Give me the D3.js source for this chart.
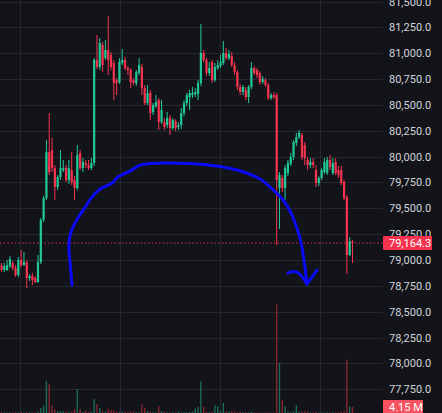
<!DOCTYPE html>
<html><head><meta charset="utf-8">
<script src="https://cdn.jsdelivr.net/npm/d3@7"></script>
<style>html,body{margin:0;padding:0;background:#131419;overflow:hidden}svg{display:block}</style>
</head><body><svg id="c" width="442" height="413"></svg>
<script>
// ---- data ----
const open=[78951,78903,78903,78942,78971,78922,78855,79000,78951,78980,
78826,78845,78826,78787,78980,79387,79599,80044,80064,79889,
79706,79802,79870,79889,79773,79870,79773,79696,80035,79889,
79938,79918,79889,79938,80934,80866,81079,80953,81031,80982,
80905,80740,80721,80905,80934,80856,80837,80740,80711,80808,
80866,80663,80518,80615,80431,80489,80547,80334,80334,80305,
80373,80276,80344,80286,80305,80421,80518,80576,80595,80605,
80605,80711,81002,80934,80808,80914,80740,80856,80876,80905,
81002,80953,80972,80885,80818,80673,80624,80644,80576,80673,
80856,80837,80808,80721,80740,80692,80566,80595,80595,79696,
79793,79696,79841,79928,79996,80131,80189,80209,80112,79967,
79918,79947,79870,79744,79793,79851,79841,79967,79841,79947,
79870,79870,79754,79609,79048,79180];
const high=[78971,78971,79000,79038,78990,78951,79029,79096,79077,79000,
78864,78874,78845,79048,79406,79619,80160,80421,80180,79918,
79822,80064,79967,79918,79967,80044,79812,80112,80064,79986,
79967,79967,79986,80953,81176,81147,81108,81127,81359,81011,
80934,80760,80953,81040,80963,80876,80856,80760,80837,80953,
80895,80692,80692,80644,80518,80595,80566,80547,80373,80431,
80402,80373,80363,80334,80470,80547,80615,80644,80673,80663,
80740,81282,81031,80953,80914,80934,80905,80934,80982,81118,
81050,81031,81011,80914,80837,80702,80692,80673,80692,80914,
80876,80856,80827,80779,80760,80711,80615,80624,80615,79851,
79822,79918,79967,80035,80160,80228,80257,80228,80141,79996,
79986,79986,79918,79812,79889,79986,79996,80015,79986,79986,
79909,79909,79773,79628,79222,79193];
const low=[78884,78884,78894,78922,78903,78836,78836,78932,78942,78729,
78797,78758,78778,78778,78961,79367,79580,79822,79851,79580,
79677,79773,79851,79754,79735,79725,79580,79677,79870,79851,
79889,79870,79870,79909,80847,80837,80818,80934,80789,80837,
80547,80595,80702,80885,80837,80789,80663,80692,80682,80789,
80595,80499,80499,80354,80402,80470,80257,80315,80257,80276,
80209,80257,80247,80257,80267,80392,80489,80450,80566,80576,
80547,80682,80914,80779,80779,80711,80721,80837,80856,80885,
80934,80934,80866,80789,80644,80595,80595,80547,80518,80653,
80789,80760,80692,80702,80673,80547,80547,80557,79145,79300,
79657,79580,79812,79909,79967,80102,80170,79967,79918,79870,
79889,79889,79706,79715,79773,79831,79822,79870,79822,79822,
79793,79725,79580,78864,79038,78971];
const close=[78903,78942,78951,79009,78922,78855,79000,78951,78980,78826,
78845,78806,78787,78980,79387,79599,80044,79851,79889,79706,
79802,79889,79889,79773,79889,79754,79696,80015,79889,79947,
79918,79889,79938,80934,80866,81098,80885,81031,80934,80866,
80711,80711,80914,80934,80856,80837,80721,80711,80818,80885,
80663,80518,80615,80421,80499,80528,80334,80450,80286,80373,
80276,80354,80276,80305,80421,80518,80595,80615,80615,80624,
80711,81002,80934,80808,80856,80740,80866,80885,80914,81002,
80953,80992,80885,80818,80673,80624,80673,80576,80673,80856,
80808,80789,80721,80750,80692,80566,80595,80576,79773,79822,
79696,79889,79938,79996,80141,80189,80228,79996,79986,79918,
79947,79918,79744,79793,79870,79947,79967,79899,79938,79841,
79822,79744,79599,79048,79180,79164.3];
const volumeM=[0.5,0.4,0.3,0.4,0.3,0.5,0.4,0.7,0.3,0.6,
0.4,0.3,0.4,1.0,3.5,5.0,22,20,5.5,2.8,
1.2,1.3,1.0,1.1,0.6,0.9,2.8,16.6,2.8,0.8,
1.5,0.7,0.9,9.7,6.2,3.5,1.2,0.8,2.8,2.1,
2.1,0.8,0.6,1.0,0.8,0.6,1.2,0.9,0.5,0.5,
6.2,3.5,1.4,0.8,0.5,0.4,4.8,1.4,0.6,0.4,
0.3,0.4,0.3,0.9,0.3,0.5,0.4,0.6,0.9,3.0,
4.2,22,4.2,0.8,0.5,0.9,5.5,4.8,1.2,6.9,
1.2,0.9,1.2,0.9,0.5,0.7,0.5,0.5,0.4,0.8,
0.3,0.3,0.3,0.2,0.3,0.4,0.2,0.4,75,34.5,
9.0,4.8,1.0,0.5,1.2,5.5,1.0,1.0,1.1,1.0,
0.4,0.4,0.8,0.3,0.3,0.3,0.4,0.3,0.4,0.3,
0.5,0.7,1.5,37,4.5,4.15];
const priceTicks=[81500,81250,81000,80750,80500,80250,80000,79750,79500,79250,79000,78750,78500,78250,78000,77750];
const timeGridIdx=[6.6,42.2,77.8,113.4];
const lastPrice=79164.3;
const lastVolumeText="4.15 M";
// hand-drawn annotation, in [candle index, price]
const arcPts=[[25.1,78758],[24.4,78980],[24.0,79145],[24.75,79271],[27.2,79406],[30.1,79522],[31.9,79599],[35.1,79686],[39.4,79744],[41.5,79802],[45.8,79860],[49.3,79918],[52.9,79933],[67.1,79933],[76.7,79909],[83.9,79870],[92.1,79783],[95.6,79706],[100.3,79580],[103.1,79454],[105.2,79309],[106.7,79164],[107.7,79000],[108.4,78855],[108.8,78768]];
const arrowLeft=[[102.0,78874],[105.2,78884],[108.8,78768]];
const arrowRight=[[108.8,78768],[112.4,78903]];

// ---- styles ----
const W=442,H=413,plotRight=383;
const UP="#22c998", DOWN="#f5334f";
const UPV="rgba(34,160,125,0.62)", DOWNV="rgba(200,45,65,0.62)";
const GRID="#26282e", TEXT="#d1d4dc";

const svg=d3.select("#c");
svg.append("rect").attr("width",W).attr("height",H).attr("fill","#131419");

const n=close.length;
const x=d3.scaleLinear().domain([0,n-1]).range([1.5,352.5]);
const y=d3.scaleLinear().domain([77750,81500]).range([389.25,1.5]);
const yv=d3.scaleLinear().domain([0,80]).range([H,H-80*1.446]);

// grid
const g=svg.append("g");
g.selectAll("line.h").data(priceTicks).join("line")
  .attr("x1",0).attr("x2",plotRight)
  .attr("y1",d=>Math.round(y(d))+0.5).attr("y2",d=>Math.round(y(d))+0.5)
  .attr("stroke",GRID).attr("stroke-width",1);
g.selectAll("line.v").data(timeGridIdx).join("line")
  .attr("y1",0).attr("y2",H)
  .attr("x1",d=>Math.round(x(d))+0.5).attr("x2",d=>Math.round(x(d))+0.5)
  .attr("stroke",GRID).attr("stroke-width",1);

const idx=d3.range(n);
const isUp=i=>close[i]>=open[i];

// volume
svg.append("g").selectAll("rect").data(idx).join("rect")
  .attr("x",i=>x(i)-0.7).attr("width",1.4)
  .attr("y",i=>yv(volumeM[i])).attr("height",i=>H-yv(volumeM[i]))
  .attr("fill",i=>isUp(i)?UPV:DOWNV);

// last price line
svg.append("line").attr("x1",0).attr("x2",plotRight)
  .attr("y1",y(lastPrice)).attr("y2",y(lastPrice))
  .attr("stroke",DOWN).attr("stroke-width",1).attr("stroke-dasharray","1.3,2.4");

// candles
const cg=svg.append("g");
cg.selectAll("line").data(idx).join("line")
  .attr("x1",i=>x(i)).attr("x2",i=>x(i))
  .attr("y1",i=>y(high[i])).attr("y2",i=>y(low[i]))
  .attr("stroke",i=>isUp(i)?UP:DOWN).attr("stroke-width",1);
cg.selectAll("rect").data(idx).join("rect")
  .attr("x",i=>x(i)-1.1).attr("width",2.2)
  .attr("y",i=>y(Math.max(open[i],close[i])))
  .attr("height",i=>Math.max(1,Math.abs(y(open[i])-y(close[i]))))
  .attr("fill",i=>isUp(i)?UP:DOWN);

// annotation
const ln=d3.line().x(d=>x(d[0])).y(d=>y(d[1])).curve(d3.curveCatmullRom);
const ag=svg.append("g").attr("fill","none").attr("stroke","#0a0af5")
  .attr("stroke-width",3).attr("stroke-linecap","round").attr("stroke-linejoin","round");
ag.append("path").attr("d",ln(arcPts));
ag.append("path").attr("d",ln(arrowLeft));
ag.append("path").attr("d",ln(arrowRight));

// price axis
const ax=svg.append("g").attr("transform",`translate(${plotRight},0)`)
  .call(d3.axisRight(y).tickValues(priceTicks).tickFormat(d3.format(",.1f")).tickSize(0).tickPadding(6));
ax.select(".domain").remove();
ax.selectAll("text").attr("fill",TEXT).style("font-family","Roboto, 'Liberation Sans', sans-serif").style("font-size","11px");

// last price label
const fmt=d3.format(",.1f");
const ly=y(lastPrice);
svg.append("rect").attr("x",plotRight).attr("y",ly-7).attr("width",49).attr("height",14).attr("fill",DOWN).attr("rx",1);
svg.append("text").attr("x",plotRight+6).attr("y",ly).attr("dy","0.35em")
  .attr("fill","#ffffff").style("font-family","Roboto, 'Liberation Sans', sans-serif").style("font-size","11px")
  .text(fmt(lastPrice));

// last volume label
const vy=yv(volumeM[n-1]);
svg.append("rect").attr("x",plotRight).attr("y",vy-7).attr("width",40).attr("height",14).attr("fill","#f7525f").attr("rx",1);
svg.append("text").attr("x",plotRight+6).attr("y",vy).attr("dy","0.35em")
  .attr("fill","#ffffff").style("font-family","Roboto, 'Liberation Sans', sans-serif").style("font-size","11px")
  .text(lastVolumeText);
</script>
</body></html>
